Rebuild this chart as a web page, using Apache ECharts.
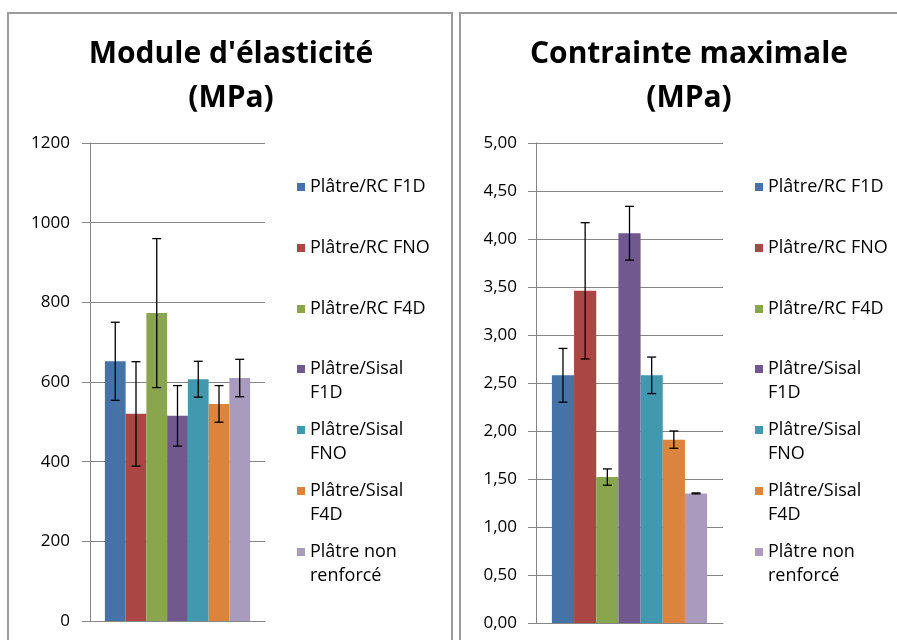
<!DOCTYPE html>
<html>
<head>
<meta charset="utf-8">
<title>Module d'élasticité / Contrainte maximale</title>
<script src="https://cdn.jsdelivr.net/npm/echarts@6/dist/echarts.min.js"></script>
<style>
  html, body { margin: 0; padding: 0; background: #fff; }
  #chart { width: 897px; height: 640px; }
</style>
</head>
<body>
<div id="chart"></div>
<script>
// series (same order in both panels)
const seriesNames = ['Plâtre/RC F1D', 'Plâtre/RC FNO', 'Plâtre/RC F4D', 'Plâtre/Sisal F1D',
  'Plâtre/Sisal FNO', 'Plâtre/Sisal F4D', 'Plâtre non renforcé']
const legendLabels = ['Plâtre/RC F1D', 'Plâtre/RC FNO', 'Plâtre/RC F4D', 'Plâtre/Sisal\nF1D',
  'Plâtre/Sisal\nFNO', 'Plâtre/Sisal\nF4D', 'Plâtre non\nrenforcé']
const colors = ['#4572A7', '#AA4643', '#89A54E', '#71588F', '#4198AF', '#DB843D', '#A99BBD']

// Module d'élasticité (MPa)
const moduleValues = [652, 520, 773, 515, 607, 545, 610]
const moduleErrors = [98, 131, 187, 76, 45, 46, 47]

// Contrainte maximale (MPa)
const contrainteValues = [2.58, 3.46, 1.52, 4.06, 2.58, 1.91, 1.35]
const contrainteErrors = [0.28, 0.71, 0.085, 0.28, 0.19, 0.09, 0.005]

const font = 'Open Sans'
const gridColor = '#868686'
const catGap = 0.17

const chart = echarts.init(document.getElementById('chart'))

function barSeries(values, axisIndex) {
  return seriesNames.map((name, i) => ({
    name: name,
    type: 'bar',
    xAxisIndex: axisIndex,
    yAxisIndex: axisIndex,
    barGap: '0%',
    barCategoryGap: (catGap * 100) + '%',
    itemStyle: { color: colors[i] },
    silent: true,
    animation: false,
    data: [values[i]]
  }))
}

// error bars drawn on top of the grouped bars
function errorSeries(values, errors, axisIndex) {
  return {
    type: 'custom',
    xAxisIndex: axisIndex,
    yAxisIndex: axisIndex,
    silent: true,
    animation: false,
    z: 10,
    data: values.map((v, i) => [0, v, errors[i], i]),
    renderItem: function (params, api) {
      const idx = api.value(3)
      const band = api.size([1, 0])[0]
      const bw = band * (1 - catGap) / values.length
      const cx = api.coord([0, 0])[0] + (idx - (values.length - 1) / 2) * bw
      const hi = api.coord([0, api.value(1) + api.value(2)])[1]
      const lo = api.coord([0, api.value(1) - api.value(2)])[1]
      const cap = 4.5
      const style = { stroke: '#000', lineWidth: 1.3 }
      return {
        type: 'group',
        children: [
          { type: 'line', shape: { x1: cx, y1: hi, x2: cx, y2: lo }, style: style },
          { type: 'line', shape: { x1: cx - cap, y1: hi, x2: cx + cap, y2: hi }, style: style },
          { type: 'line', shape: { x1: cx - cap, y1: lo, x2: cx + cap, y2: lo }, style: style }
        ]
      }
    }
  }
}

// one legend per entry so every entry keeps Excel's even spacing.
// wrapped entries get an empty first line, so the square (centred on the
// text block) lines up with the first real line
function legends(left) {
  return seriesNames.map((name, i) => {
    const twoLines = legendLabels[i].indexOf('\n') >= 0
    return {
      data: [name],
      left: left,
      top: Math.round(187 + i * 60.8) - (twoLines ? 36 : 12),
      orient: 'vertical',
      padding: 0,
      icon: 'rect',
      itemWidth: 8,
      itemHeight: 8,
      itemGap: 0,
      selectedMode: false,
      formatter: () => (twoLines ? '\n' : '') + legendLabels[i],
      textStyle: {
        fontFamily: font,
        fontSize: 18,
        lineHeight: 24,
        color: '#000'
      }
    }
  })
}

const titleStyle = { fontFamily: font, fontSize: 30, fontWeight: 'bold', lineHeight: 44, color: '#000' }
const labelStyle = { fontFamily: font, fontSize: 17, color: '#000' }

chart.setOption({
  animation: false,
  graphic: [
    { type: 'rect', shape: { x: 8, y: 13, width: 444, height: 660 }, style: { fill: 'none', stroke: '#9c9c9c', lineWidth: 2 } },
    { type: 'rect', shape: { x: 460, y: 13, width: 500, height: 660 }, style: { fill: 'none', stroke: '#9c9c9c', lineWidth: 2 } }
  ],
  title: [
    { text: "Module d'élasticité\n(MPa)", left: 226, top: 27, textAlign: 'center', textStyle: titleStyle },
    { text: 'Contrainte maximale\n(MPa)', left: 684, top: 27, textAlign: 'center', textStyle: titleStyle }
  ],
  legend: legends(297).concat(legends(755)),
  grid: [
    { left: 90, top: 143, width: 175, height: 478 },
    { left: 536, top: 143, width: 187, height: 480 }
  ],
  xAxis: [0, 1].map(i => ({
    type: 'category',
    gridIndex: i,
    data: [''],
    axisLine: { lineStyle: { color: gridColor, width: 1 } },
    axisTick: { show: false },
    axisLabel: { show: false }
  })),
  yAxis: [
    {
      type: 'value',
      gridIndex: 0,
      min: 0,
      max: 1200,
      interval: 200,
      axisLine: { show: true, lineStyle: { color: gridColor } },
      axisTick: { show: true, length: 8, lineStyle: { color: gridColor } },
      axisLabel: Object.assign({ margin: 20, formatter: v => String(v) }, labelStyle),
      splitLine: { lineStyle: { color: gridColor } }
    },
    {
      type: 'value',
      gridIndex: 1,
      min: 0,
      max: 5,
      interval: 0.5,
      axisLine: { show: true, lineStyle: { color: gridColor } },
      axisTick: { show: true, length: 8, lineStyle: { color: gridColor } },
      axisLabel: Object.assign({
        margin: 19,
        formatter: v => v.toFixed(2).replace('.', ',')
      }, labelStyle),
      splitLine: { lineStyle: { color: gridColor } }
    }
  ],
  series: barSeries(moduleValues, 0)
    .concat([errorSeries(moduleValues, moduleErrors, 0)])
    .concat(barSeries(contrainteValues, 1))
    .concat([errorSeries(contrainteValues, contrainteErrors, 1)])
})
</script>
</body>
</html>
